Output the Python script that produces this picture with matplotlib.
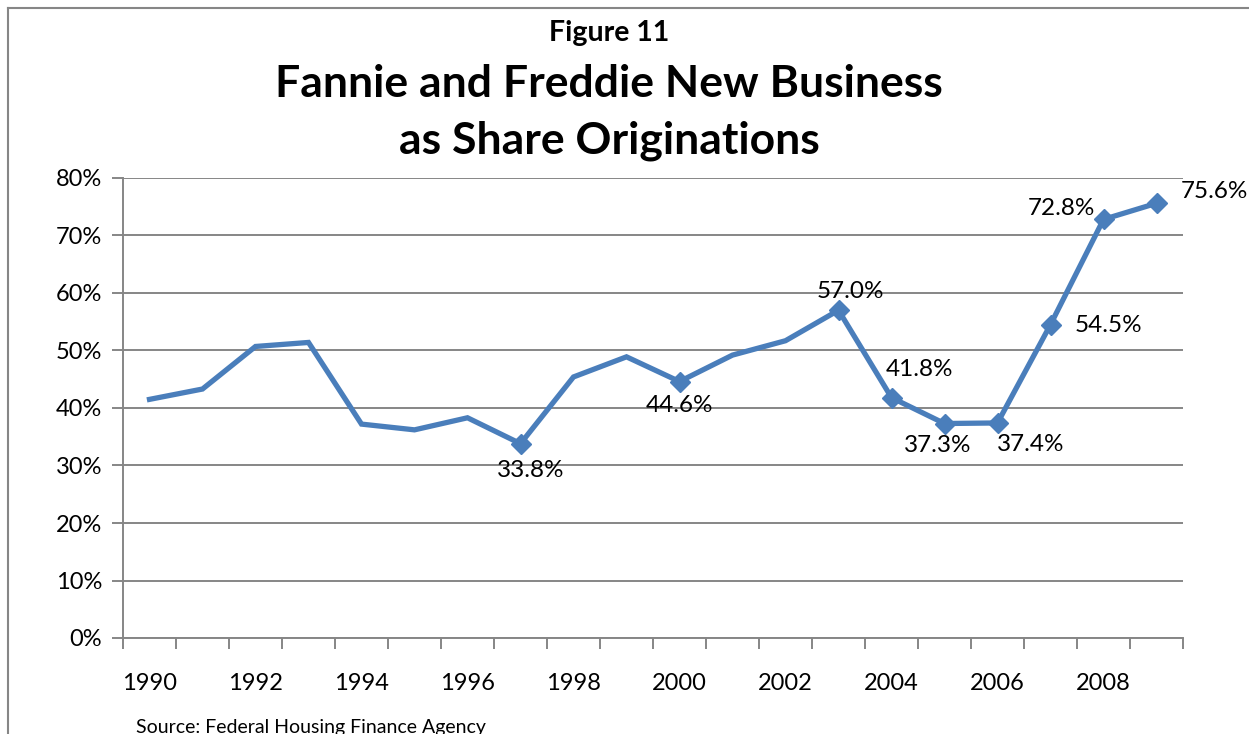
from matplotlib import pyplot as plt
from matplotlib.ticker import FixedLocator, FuncFormatter
import numpy as np

plt.rcParams['font.family'] = ['Lato', 'DejaVu Sans']

years = list(range(1990, 2010))
share = [41.5, 43.3, 50.7, 51.4, 37.2, 36.2, 38.3, 33.8, 45.4, 48.9,
         44.6, 49.2, 51.7, 57.0, 41.8, 37.3, 37.4, 54.5, 72.8, 75.6]
labeled_years = [1997, 2000, 2003, 2004, 2005, 2006, 2007, 2008, 2009]

# label offsets in pixels (dx, dy), relative to the point
offsets = {
    1997: (10, -27), 2000: (0, -24), 2003: (12, 19), 2004: (28, 28),
    2005: (-7, -22), 2006: (33, -22), 2007: (58, -1), 2008: (-42, 11),
    2009: (58, 12),
}

blue = '#4a7ebb'
gray = '#868686'

fig = plt.figure(figsize=(12.49, 7.34), dpi=100)
ax = fig.add_axes([123 / 1249, 96 / 734, 1060 / 1249, 460 / 734])

x = np.arange(len(years))
marks = [years.index(y) for y in labeled_years]
ax.plot(x, share, color=blue, linewidth=3.8, solid_joinstyle='miter',
        marker='D', markevery=marks, markersize=10, zorder=3)

for y in labeled_years:
    i = years.index(y)
    dx, dy = offsets[y]
    ax.annotate(f'{share[i]:.1f}%', (x[i], share[i]),
                xytext=(dx * 0.72, dy * 0.72), textcoords='offset points',
                ha='center', va='center', fontsize=17.5, color='black')

ax.set_xlim(-0.5, len(years) - 0.5)
ax.set_ylim(0, 80)
ax.set_yticks(np.arange(0, 81, 10))
ax.yaxis.set_major_formatter(FuncFormatter(lambda v, p: f'{v:.0f}%'))
ax.yaxis.grid(True, color=gray, linewidth=1.4)
ax.set_axisbelow(True)

ax.set_xticks(x[::2])
ax.set_xticklabels([str(y) for y in years[::2]])
ax.xaxis.set_minor_locator(FixedLocator(np.arange(-0.5, len(years), 1.0)))
ax.tick_params(axis='x', which='major', length=0, pad=25, labelsize=17)
ax.tick_params(axis='x', which='minor', length=8, width=1.4, color=gray)
ax.tick_params(axis='y', length=8, width=1.4, color=gray, labelsize=17, pad=7)

for side in ['top', 'right']:
    ax.spines[side].set_visible(False)
for side in ['left', 'bottom']:
    ax.spines[side].set_color(gray)
    ax.spines[side].set_linewidth(1.4)

fig.text(609 / 1249, 1 - 33 / 734, 'Figure 11', ha='center', va='center',
         fontsize=20.5, fontweight='bold')
fig.text(609 / 1249, 1 - 84 / 734, 'Fannie and Freddie New Business',
         ha='center', va='center', fontsize=32, fontweight='bold')
fig.text(609 / 1249, 1 - 141 / 734, 'as Share Originations',
         ha='center', va='center', fontsize=32, fontweight='bold')
fig.text(136 / 1249, 1 - 727 / 734, 'Source: Federal Housing Finance Agency',
         ha='left', va='center', fontsize=14)

# chart frame
fig.add_artist(plt.Line2D([8 / 1249, 8 / 1249], [0, 1 - 8 / 734],
                          transform=fig.transFigure, color=gray, linewidth=1.5))
fig.add_artist(plt.Line2D([8 / 1249, 1], [1 - 8 / 734, 1 - 8 / 734],
                          transform=fig.transFigure, color=gray, linewidth=1.5))

fig.savefig('out.png', dpi=100)
